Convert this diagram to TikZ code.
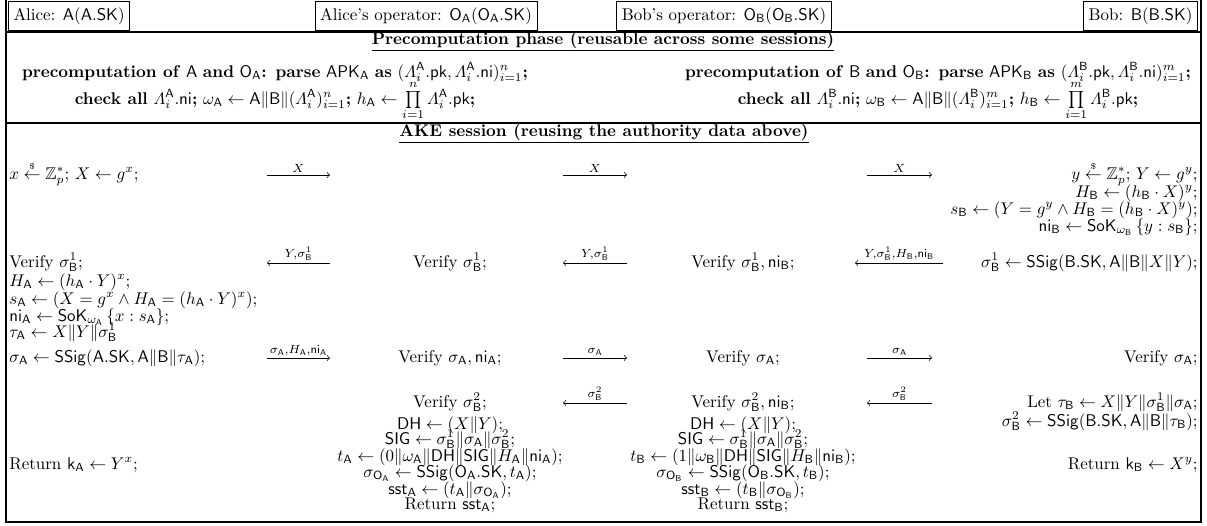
\documentclass[tikz,border=0pt]{standalone}
\usepackage{amsmath,amssymb}
\newcommand{\sA}{\mathsf{A}}
\newcommand{\sB}{\mathsf{B}}
\newcommand{\smp}{\mathrel{\overset{\scriptscriptstyle\$}{\gets}}}
\tikzset{
  hdr/.style={draw, line width=0.5pt, inner xsep=3pt, minimum height=15pt},
  L/.style={anchor=base west, inner sep=0pt},
  C/.style={anchor=base, inner sep=0pt},
  R/.style={anchor=base east, inner sep=0pt},
  msg/.style={line width=0.4pt},
  lbl/.style={above, inner sep=1.2pt},
  frm/.style={line width=0.6pt}
}
\begin{document}
\begin{tikzpicture}[x=0.59pt,y=-0.59pt]
\useasboundingbox (0,0) rectangle (1207,526);
% frame
\draw[frm] (6,0) -- (6,522) -- (1201,522) -- (1201,0);
\draw[frm] (6,32) -- (1201,32);
\draw[frm] (6,123) -- (1201,123);
% headers
\node[hdr, anchor=west] (alice) at (8,16) {Alice: $\sA(\mathsf{A.SK})$};
\node[hdr] (aop) at (426,16) {Alice's operator: $\mathsf{O}_\sA(\mathsf{O}_\sA.\mathsf{SK})$};
\node[hdr] (bop) at (724,16) {Bob's operator: $\mathsf{O}_\sB(\mathsf{O}_\sB.\mathsf{SK})$};
\node[hdr, anchor=east] (bob) at (1198,16) {Bob: $\sB(\mathsf{B.SK})$};
% titles
\node[C] (t1) at (603,44) {\underline{\textbf{Precomputation phase (reusable across some sessions)}}};
\node[C] (t2) at (604,136) {\underline{\textbf{AKE session (reusing the authority data above)}}};
% precomputation
\node[C] (pa1) at (275,77) {\textbf{precomputation of} $\sA$ \textbf{and} $\mathsf{O}_\sA$\textbf{: parse} $\mathsf{APK}_\sA$ \textbf{as} $(\varLambda_i^\sA.\mathsf{pk}, \varLambda_i^\sA.\mathsf{ni})_{i=1}^n$\textbf{;}};
\node[C] (pa2) at (275,104) {\textbf{check all} $\varLambda_i^\sA.\mathsf{ni}$\textbf{;} $\omega_\sA \gets \sA\|\sB\|(\varLambda_i^\sA)_{i=1}^n$\textbf{;} $h_\sA \gets \prod\limits_{i=1}^n \varLambda_i^\sA.\mathsf{pk}$\textbf{;}};
\node[C] (pb1) at (938,77) {\textbf{precomputation of} $\sB$ \textbf{and} $\mathsf{O}_\sB$\textbf{: parse} $\mathsf{APK}_\sB$ \textbf{as} $(\varLambda_i^\sB.\mathsf{pk}, \varLambda_i^\sB.\mathsf{ni})_{i=1}^m$\textbf{;}};
\node[C] (pb2) at (938,104) {\textbf{check all} $\varLambda_i^\sB.\mathsf{ni}$\textbf{;} $\omega_\sB \gets \sA\|\sB\|(\varLambda_i^\sB)_{i=1}^m$\textbf{;} $h_\sB \gets \prod\limits_{i=1}^m \varLambda_i^\sB.\mathsf{pk}$\textbf{;}};
% column 1 (Alice)
\node[L] (c1a) at (9,179) {$x \smp \mathbb{Z}_p^*$; $X \gets g^x$;};
\node[L] (c1b) at (9,267) {Verify $\sigma_\sB^1$;};
\node[L] (c1c) at (9,286) {$H_\sA \gets (h_\sA\cdot Y)^x$;};
\node[L] (c1d) at (9,304) {$s_\sA \gets (X = g^x \wedge H_\sA = (h_\sA\cdot Y)^x)$;};
\node[L] (c1e) at (9,321) {$\mathsf{ni}_\sA \gets \mathsf{SoK}_{\omega_\sA}\left\{x : s_\sA\right\}$;};
\node[L] (c1f) at (9,337) {$\tau_\sA \gets X\|Y\|\sigma_\sB^1$};
\node[L] (c1g) at (9,362) {$\sigma_\sA \gets \mathsf{SSig}(\mathsf{A.SK}, \sA\|\sB\|\tau_\sA)$;};
\node[L] (c1h) at (9,469) {Return $\mathsf{k}_\sA \gets Y^x$;};
% column 2 (Alice's operator)
\node[C] (c2a) at (450,267) {Verify $\sigma_\sB^1$;};
\node[C] (c2b) at (450,362) {Verify $\sigma_\sA, \mathsf{ni}_\sA$;};
\node[C] (c2c) at (450,407) {Verify $\sigma_\sB^2$;};
\node[C] (c2d) at (450,429) {$\mathsf{DH} \gets (X\|Y)$;};
\node[C] (c2e) at (450,444) {$\mathsf{SIG} \gets \sigma_\sB^1\|\sigma_\sA\|\sigma_\sB^2$;};
\node[C] (c2f) at (450,461) {$t_\sA \gets (0\|\omega_\sA\|\mathsf{DH}\|\mathsf{SIG}\|H_\sA\|\mathsf{ni}_\sA)$;};
\node[C] (c2g) at (450,477) {$\sigma_{\mathsf{O}_\sA} \gets \mathsf{SSig}(\mathsf{O}_\sA.\mathsf{SK}, t_\sA)$;};
\node[C] (c2h) at (450,494) {$\mathsf{sst}_\sA \gets (t_\sA\|\sigma_{\mathsf{O}_\sA})$;};
\node[C] (c2i) at (450,509) {Return $\mathsf{sst}_\sA$;};
% column 3 (Bob's operator)
\node[C] (c3a) at (743,267) {Verify $\sigma_\sB^1, \mathsf{ni}_\sB$;};
\node[C] (c3b) at (743,362) {Verify $\sigma_\sA$;};
\node[C] (c3c) at (743,407) {Verify $\sigma_\sB^2, \mathsf{ni}_\sB$;};
\node[C] (c3d) at (743,429) {$\mathsf{DH} \gets (X\|Y)$;};
\node[C] (c3e) at (743,444) {$\mathsf{SIG} \gets \sigma_\sB^1\|\sigma_\sA\|\sigma_\sB^2$;};
\node[C] (c3f) at (743,461) {$t_\sB \gets (1\|\omega_\sB\|\mathsf{DH}\|\mathsf{SIG}\|H_\sB\|\mathsf{ni}_\sB)$;};
\node[C] (c3g) at (743,477) {$\sigma_{\mathsf{O}_\sB} \gets \mathsf{SSig}(\mathsf{O}_\sB.\mathsf{SK}, t_\sB)$;};
\node[C] (c3h) at (743,494) {$\mathsf{sst}_\sB \gets (t_\sB\|\sigma_{\mathsf{O}_\sB})$;};
\node[C] (c3i) at (743,509) {Return $\mathsf{sst}_\sB$;};
% column 4 (Bob)
\node[R] (c4a) at (1198,179) {$y \smp \mathbb{Z}_p^*$; $Y \gets g^y$;};
\node[R] (c4b) at (1198,197) {$H_\sB \gets (h_\sB\cdot X)^y$;};
\node[R] (c4c) at (1198,214) {$s_\sB \gets (Y = g^y \wedge H_\sB = (h_\sB\cdot X)^y)$;};
\node[R] (c4d) at (1198,231) {$\mathsf{ni}_\sB \gets \mathsf{SoK}_{\omega_\sB}\left\{y : s_\sB\right\}$;};
\node[R] (c4e) at (1198,267) {$\sigma_\sB^1 \gets \mathsf{SSig}(\mathsf{B.SK}, \sA\|\sB\|X\|Y)$;};
\node[R] (c4f) at (1198,362) {Verify $\sigma_\sA$;};
\node[R] (c4g) at (1198,407) {Let $\tau_\sB \gets X\|Y\|\sigma_\sB^1\|\sigma_\sA$;};
\node[R] (c4h) at (1198,426) {$\sigma_\sB^2 \gets \mathsf{SSig}(\mathsf{B.SK}, \sA\|\sB\|\tau_\sB)$;};
\node[R] (c4i) at (1198,469) {Return $\mathsf{k}_\sB \gets X^y$;};
% message coordinates
\coordinate (m11l) at (267,175); \coordinate (m11r) at (330,175);
\coordinate (m12l) at (563,175); \coordinate (m12r) at (627,175);
\coordinate (m13l) at (867,175); \coordinate (m13r) at (932,175);
\coordinate (m21l) at (267,263); \coordinate (m21r) at (330,263);
\coordinate (m22l) at (563,263); \coordinate (m22r) at (627,263);
\coordinate (m23l) at (855,263); \coordinate (m23r) at (943,263);
\coordinate (m31l) at (267,358); \coordinate (m31r) at (330,358);
\coordinate (m32l) at (563,358); \coordinate (m32r) at (627,358);
\coordinate (m33l) at (867,358); \coordinate (m33r) at (932,358);
\coordinate (m42l) at (563,403); \coordinate (m42r) at (627,403);
\coordinate (m43l) at (867,403); \coordinate (m43r) at (932,403);
% messages
\draw[msg,->] (m11l) -- node[lbl] (x1) {$\scriptstyle X$} (m11r);
\draw[msg,->] (m12l) -- node[lbl] (x2) {$\scriptstyle X$} (m12r);
\draw[msg,->] (m13l) -- node[lbl] (x3) {$\scriptstyle X$} (m13r);
\draw[msg,<-] (m21l) -- node[lbl] (y1) {$\scriptstyle Y,\sigma_\sB^1$} (m21r);
\draw[msg,<-] (m22l) -- node[lbl] (y2) {$\scriptstyle Y,\sigma_\sB^1$} (m22r);
\draw[msg,<-] (m23l) -- node[lbl] (y3) {$\scriptstyle Y,\sigma_\sB^1,H_\sB,\mathsf{ni}_\sB$} (m23r);
\draw[msg,->] (m31l) -- node[lbl] (s1) {$\scriptstyle \sigma_\sA,H_\sA,\mathsf{ni}_\sA$} (m31r);
\draw[msg,->] (m32l) -- node[lbl] (s2) {$\scriptstyle \sigma_\sA$} (m32r);
\draw[msg,->] (m33l) -- node[lbl] (s3) {$\scriptstyle \sigma_\sA$} (m33r);
\draw[msg,<-] (m42l) -- node[lbl] (z2) {$\scriptstyle \sigma_\sB^2$} (m42r);
\draw[msg,<-] (m43l) -- node[lbl] (z3) {$\scriptstyle \sigma_\sB^2$} (m43r);
\end{tikzpicture}
\end{document}
